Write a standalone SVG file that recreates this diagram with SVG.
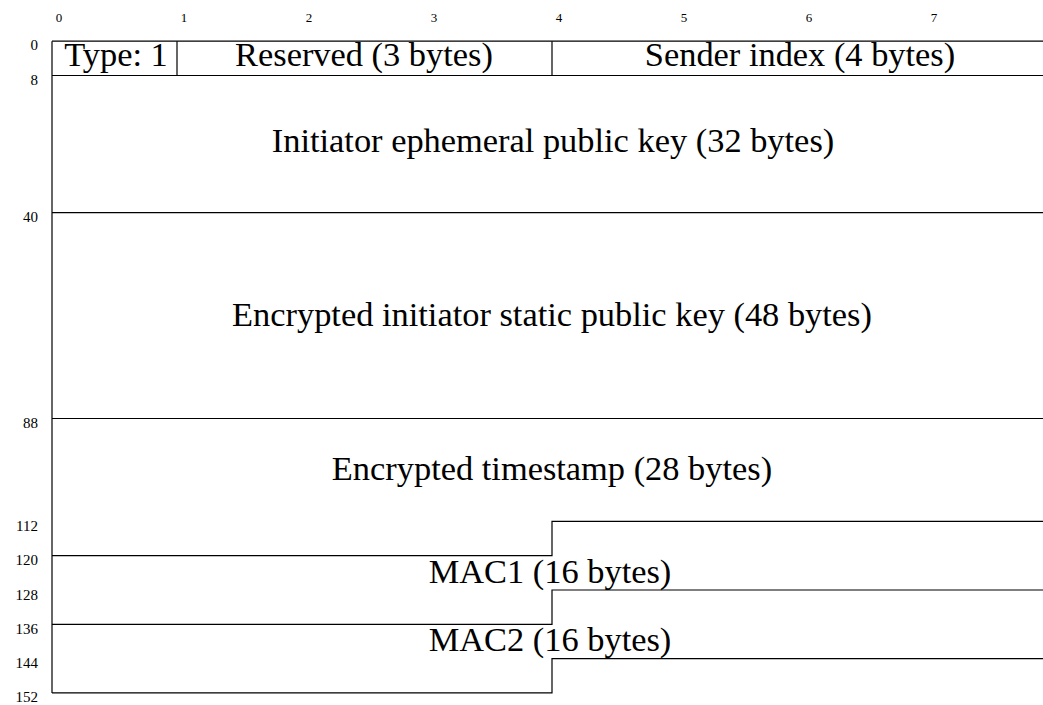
<svg xmlns="http://www.w3.org/2000/svg" width="1043" height="705" viewBox="0 0 1043 705">
  <style>
    .rule { fill: none; stroke: #000; stroke-width: 1.2; }
    .label { font-family: "Liberation Serif", "DejaVu Serif", serif; font-size: 34.4px; fill: #000; text-anchor: middle; }
    .col { font-family: "Liberation Serif", "DejaVu Serif", serif; font-size: 13px; fill: #000; text-anchor: middle; }
    .row { font-family: "Liberation Serif", "DejaVu Serif", serif; font-size: 15px; fill: #000; text-anchor: end; }
  </style>
  <rect x="0" y="0" width="1043" height="705" fill="#fff"/>

  <!-- byte column numbers -->
  <g id="columns">
    <text class="col" x="59" y="22">0</text>
    <text class="col" x="184" y="22">1</text>
    <text class="col" x="309" y="22">2</text>
    <text class="col" x="434" y="22">3</text>
    <text class="col" x="559" y="22">4</text>
    <text class="col" x="684" y="22">5</text>
    <text class="col" x="809" y="22">6</text>
    <text class="col" x="934" y="22">7</text>
  </g>

  <!-- byte offsets of each row -->
  <g id="offsets">
    <text class="row" x="38" y="50">0</text>
    <text class="row" x="38" y="85">8</text>
    <text class="row" x="38" y="222">40</text>
    <text class="row" x="38" y="428">88</text>
    <text class="row" x="38" y="531">112</text>
    <text class="row" x="38" y="565">120</text>
    <text class="row" x="38" y="600">128</text>
    <text class="row" x="38" y="634">136</text>
    <text class="row" x="38" y="668">144</text>
    <text class="row" x="38" y="702">152</text>
  </g>

  <!-- field boundaries; the right side runs past the edge -->
  <g id="connectors">
    <path class="rule" d="M52 41.2 H1052"/>
    <path class="rule" d="M52 41.2 V692.9"/>
    <path class="rule" d="M177 41.2 V75.5 M552 41.2 V75.5"/>
    <path class="rule" d="M52 75.5 H1052"/>
    <path class="rule" d="M52 212.7 H1052"/>
    <path class="rule" d="M52 418.5 H1052"/>
    <path class="rule" d="M52 555.7 H552 V521.4 H1052"/>
    <path class="rule" d="M52 624.3 H552 V590 H1052"/>
    <path class="rule" d="M52 692.9 H552 V658.6 H1052"/>
  </g>

  <g id="type"><text class="label" x="116" y="66">Type: 1</text></g>
  <g id="reserved"><text class="label" x="364" y="66">Reserved (3 bytes)</text></g>
  <g id="sender-index"><text class="label" x="800" y="66">Sender index (4 bytes)</text></g>
  <g id="ephemeral"><text class="label" x="553" y="152">Initiator ephemeral public key (32 bytes)</text></g>
  <g id="static"><text class="label" x="552" y="326">Encrypted initiator static public key (48 bytes)</text></g>
  <g id="timestamp"><text class="label" x="552" y="480">Encrypted timestamp (28 bytes)</text></g>
  <g id="mac1"><text class="label" x="550" y="583">MAC1 (16 bytes)</text></g>
  <g id="mac2"><text class="label" x="550" y="651">MAC2 (16 bytes)</text></g>
</svg>
